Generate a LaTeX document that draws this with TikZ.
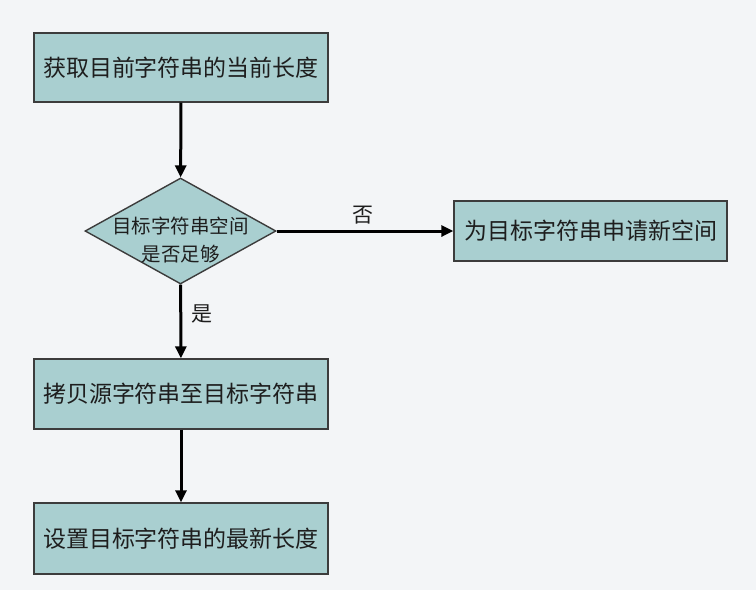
\documentclass[tikz,border=0pt]{standalone}
\usepackage{fontspec}
\setmainfont{Noto Sans CJK SC}
\usepackage{tikz}
\usetikzlibrary{arrows.meta,positioning,shapes.geometric}
\definecolor{pagebg}{HTML}{F3F5F7}
\definecolor{boxfill}{HTML}{A9CFD0}
\definecolor{boxline}{HTML}{3C3C3C}
\definecolor{ink}{HTML}{1E1E1E}
\tikzset{
  procbox/.style={
    rectangle, draw=boxline, fill=boxfill, line width=1.4pt,
    minimum width=#1, inner sep=0pt, text=ink,
    font=\fontsize{23}{28}\selectfont, align=center
  },
  procbox/.default=294pt,
  decision/.style={
    diamond, draw=boxline, fill=boxfill, line width=1.4pt,
    minimum width=191pt, minimum height=106pt, inner sep=0pt
  },
  flowarrow/.style={
    -{Triangle[length=12pt,width=11pt]}, line width=3pt, color=black
  },
  branchlabel/.style={
    font=\fontsize{21}{24}\selectfont, text=ink
  },
}

\begin{document}
\begin{tikzpicture}[x=1pt,y=-1pt]
  % page
  \fill[pagebg] (0,0) rectangle (756,590);

  % main column
  \node[procbox, minimum height=69pt] (getlen) at (181,67.5) {获取目前字符串的当前长度};
  \node[decision, label={[text=ink, font=\fontsize{19.5}{28}\selectfont,
      align=center, yshift=-9pt]center:目标字符串空间\\是否足够}] (check) at (180.5,231) {};
  \node[procbox, minimum height=70pt] (copy) at (181,394) {拷贝源字符串至目标字符串};
  \node[procbox, minimum height=71pt] (setlen) at (181,538.5) {设置目标字符串的最新长度};

  % branch to the right
  \node[procbox=273pt, minimum height=60pt] (alloc) at (590.5,231) {为目标字符串申请新空间};

  % connectors
  \draw[flowarrow] (getlen) -- (check);
  \draw[flowarrow] (check) -- (copy)
    node[branchlabel, pos=0.4, right=6pt] (yes) {是};
  \draw[flowarrow] (check) -- (alloc)
    node[branchlabel, pos=0.49, above=2pt] (no) {否};
  \draw[flowarrow] (copy) -- (setlen);
\end{tikzpicture}
\end{document}
